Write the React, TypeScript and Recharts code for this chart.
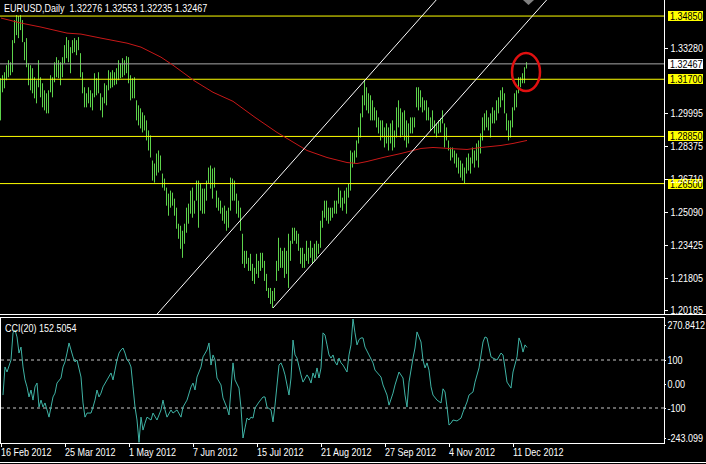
import React from 'react';
import { ComposedChart, Bar, Line, XAxis, YAxis, ReferenceLine, ReferenceDot } from 'recharts';

const FONT = "'Liberation Sans', Arial, sans-serif";
const SX = 0.82;
const BAR_COLOR = '#5dd34b';
const YELLOW = '#ffff00';

// Daily bar highs / lows (EURUSD), 32 bars per chunk
const highs1 = [1.3175,1.3190,1.3205,1.3240,1.3265,1.3255,1.3365,1.3465,1.3490,1.3485,1.3490,1.3465,1.3355,1.3375,1.3250,1.3240,1.3225,1.3180,1.3165,1.3265,1.3180,1.3150,1.3115,1.3100,1.3115,1.3190,1.3180,1.3255,1.3280,1.3265,1.3255,1.3280];
const lows1 = [1.2965,1.3105,1.3125,1.3165,1.3180,1.3190,1.3205,1.3350,1.3390,1.3375,1.3415,1.3355,1.3265,1.3230,1.3140,1.3115,1.3100,1.3075,1.3050,1.3130,1.3080,1.3030,1.3015,1.3000,1.3000,1.3105,1.3080,1.3155,1.3180,1.3175,1.3140,1.3180];
const highs2 = [1.3340,1.3380,1.3365,1.3330,1.3365,1.3375,1.3365,1.3380,1.3300,1.3205,1.3130,1.3100,1.3130,1.3115,1.3100,1.3200,1.3175,1.3205,1.3100,1.3080,1.3150,1.3140,1.3215,1.3205,1.3215,1.3205,1.3225,1.3265,1.3250,1.3275,1.3265,1.3285];
const lows2 = [1.3250,1.3275,1.3255,1.3200,1.3300,1.3305,1.3290,1.3315,1.3180,1.3100,1.3030,1.3030,1.3050,1.3030,1.3015,1.3080,1.3090,1.3100,1.3015,1.2980,1.3050,1.3040,1.3115,1.3125,1.3130,1.3140,1.3145,1.3165,1.3175,1.3180,1.3190,1.3200];
const highs3 = [1.3280,1.3190,1.3175,1.3180,1.3065,1.3040,1.3025,1.3005,1.2990,1.2965,1.2915,1.2890,1.2765,1.2750,1.2800,1.2815,1.2790,1.2700,1.2675,1.2630,1.2600,1.2615,1.2605,1.2575,1.2530,1.2450,1.2440,1.2415,1.2450,1.2530,1.2550,1.2615];
const lows3 = [1.3150,1.3065,1.3075,1.3075,1.2965,1.2940,1.2925,1.2905,1.2915,1.2865,1.2815,1.2780,1.2665,1.2655,1.2690,1.2705,1.2715,1.2630,1.2615,1.2540,1.2490,1.2530,1.2540,1.2490,1.2425,1.2375,1.2325,1.2280,1.2350,1.2405,1.2450,1.2500];
const highs4 = [1.2630,1.2565,1.2665,1.2665,1.2650,1.2625,1.2625,1.2665,1.2730,1.2740,1.2725,1.2730,1.2615,1.2580,1.2565,1.2530,1.2540,1.2515,1.2530,1.2680,1.2675,1.2665,1.2600,1.2565,1.2530,1.2400,1.2315,1.2315,1.2280,1.2300,1.2250,1.2230];
const lows4 = [1.2480,1.2500,1.2565,1.2430,1.2515,1.2500,1.2500,1.2565,1.2650,1.2625,1.2575,1.2630,1.2530,1.2515,1.2500,1.2465,1.2450,1.2415,1.2430,1.2515,1.2565,1.2565,1.2500,1.2480,1.2415,1.2250,1.2230,1.2250,1.2215,1.2215,1.2165,1.2150];
const highs5 = [1.2300,1.2265,1.2305,1.2305,1.2265,1.2200,1.2130,1.2130,1.2115,1.2130,1.2265,1.2380,1.2330,1.2315,1.2330,1.2315,1.2400,1.2365,1.2430,1.2430,1.2415,1.2400,1.2330,1.2330,1.2300,1.2365,1.2330,1.2365,1.2330,1.2350,1.2365,1.2350];
const lows5 = [1.2200,1.2180,1.2215,1.2230,1.2165,1.2115,1.2080,1.2050,1.2030,1.2065,1.2165,1.2215,1.2230,1.2230,1.2180,1.2200,1.2130,1.2265,1.2350,1.2365,1.2350,1.2315,1.2250,1.2230,1.2230,1.2265,1.2250,1.2280,1.2250,1.2265,1.2280,1.2300];
const highs6 = [1.2465,1.2515,1.2565,1.2565,1.2530,1.2530,1.2530,1.2565,1.2565,1.2630,1.2615,1.2580,1.2615,1.2630,1.2650,1.2815,1.2805,1.2815,1.2865,1.2930,1.3000,1.3090,1.3165,1.3130,1.3100,1.3090,1.3065,1.3030,1.3015,1.2980,1.2965,1.2965];
const lows6 = [1.2330,1.2430,1.2480,1.2465,1.2450,1.2465,1.2480,1.2500,1.2500,1.2550,1.2530,1.2515,1.2550,1.2500,1.2580,1.2615,1.2730,1.2750,1.2780,1.2850,1.2880,1.2980,1.3040,1.3015,1.3000,1.2965,1.2965,1.2965,1.2930,1.2900,1.2865,1.2880];
const highs7 = [1.2930,1.2950,1.2930,1.2950,1.2965,1.2915,1.3030,1.3065,1.3025,1.3005,1.3015,1.2965,1.2950,1.2980,1.2980,1.2980,1.3130,1.3130,1.3115,1.3080,1.3065,1.3065,1.3030,1.2980,1.3015,1.2965,1.2950,1.2965,1.2975,1.3015,1.2950,1.2930];
const lows7 = [1.2830,1.2850,1.2815,1.2850,1.2815,1.2830,1.2880,1.2930,1.2880,1.2890,1.2865,1.2830,1.2850,1.2900,1.2900,1.2930,1.3030,1.3015,1.3030,1.3005,1.3015,1.2965,1.2965,1.2915,1.2930,1.2900,1.2880,1.2900,1.2905,1.2950,1.2830,1.2865];
const highs8 = [1.2865,1.2830,1.2830,1.2815,1.2800,1.2780,1.2765,1.2750,1.2730,1.2780,1.2800,1.2780,1.2830,1.2815,1.2850,1.2865,1.2900,1.2980,1.3000,1.3015,1.2980,1.3000,1.3030,1.3015,1.3065,1.3080,1.3115,1.3130,1.3100,1.3000,1.2965,1.2965,1.3030,1.3100,1.3115,1.3180,1.3180,1.3200,1.3230,1.32553];
const lows8 = [1.2815,1.2765,1.2780,1.2750,1.2730,1.2700,1.2680,1.2665,1.2650,1.2700,1.2715,1.2700,1.2750,1.2730,1.2765,1.2730,1.2800,1.2865,1.2915,1.2930,1.2915,1.2880,1.2950,1.2950,1.2965,1.3000,1.3030,1.3065,1.3000,1.2915,1.2865,1.2880,1.2930,1.3015,1.3030,1.3100,1.3130,1.3150,1.3150,1.32235];

// Moving average: [bar index, value]
const maPoints = [[0,1.3475],[10,1.3450],[20,1.3430],[33,1.3400],[40,1.3395],[50,1.3375],[63,1.3350],[70,1.3330],[80,1.3280],[86,1.3240],[97,1.3160],[106,1.3105],[116,1.3060],[127,1.2980],[138,1.2905],[143,1.2875],[153,1.2815],[163,1.2780],[173,1.2755],[178,1.2750],[183,1.2760],[191,1.2780],[200,1.2800],[210,1.2825],[216,1.2830],[224,1.2825],[233,1.2820],[240,1.2830],[250,1.2840],[256,1.2850],[263,1.2865]];

// CCI(20): [bar index, value]
const cciPoints = [[1,-46],[2,71],[3,50],[5,100],[6,213],[7,225],[8,196],[9,129],[10,154],[11,71],[12,17],[13,-12],[14,-54],[15,-25],[16,-67],[17,-12],[18,4],[19,-96],[20,-67],[21,-96],[22,-79],[23,-108],[24,-138],[25,-96],[26,-54],[27,-38],[28,4],[30,25],[31,71],[32,92],[33,129],[34,171],[35,142],[36,113],[37,92],[38,100],[40,29],[41,-79],[42,-138],[43,-121],[45,-121],[46,-96],[47,-67],[48,-25],[49,-54],[50,-38],[51,-12],[53,17],[55,46],[56,17],[57,58],[58,100],[59,129],[60,142],[61,150],[62,129],[63,100],[64,92],[65,71],[66,-12],[67,-96],[68,-150],[69,-243.099],[70,-138],[71,-192],[72,-163],[73,-138],[75,-150],[76,-121],[78,-150],[80,-108],[81,-67],[82,-108],[83,-138],[85,-108],[86,-121],[88,-108],[90,-138],[91,-96],[93,-67],[95,-12],[96,4],[97,-25],[98,29],[100,71],[101,113],[103,142],[104,171],[105,79],[106,121],[107,100],[108,25],[110,-4],[111,-58],[113,-100],[114,-129],[116,88],[117,17],[119,-17],[120,-100],[121,-225],[122,-183],[123,-142],[124,-150],[125,-138],[126,-142],[127,-100],[129,-75],[131,-54],[132,-54],[133,-96],[135,-108],[136,-158],[137,-88],[139,79],[140,88],[141,67],[142,38],[144,-46],[145,25],[146,183],[147,121],[148,108],[150,38],[151,8],[153,38],[154,25],[155,4],[156,46],[157,25],[158,67],[159,25],[160,67],[161,213],[162,204],[163,163],[164,121],[165,108],[166,121],[167,92],[168,79],[169,108],[170,88],[171,79],[173,50],[174,121],[175,163],[176,270.8412],[177,213],[178,163],[179,185],[180,192],[181,192],[182,154],[184,121],[186,88],[187,58],[190,29],[191,-4],[193,-46],[194,-88],[196,-38],[197,-4],[199,50],[201,25],[202,-46],[203,-96],[204,8],[206,108],[207,150],[208,217],[210,175],[211,100],[212,67],[213,88],[214,58],[215,-12],[216,-46],[218,-67],[220,-79],[221,-20],[222,-33],[223,-96],[224,-171],[225,-163],[226,-150],[228,-154],[230,-142],[231,-117],[233,-75],[234,-46],[236,-33],[237,8],[239,67],[241,175],[242,196],[243,192],[245,113],[246,108],[248,100],[250,129],[251,121],[252,67],[253,8],[255,-17],[256,50],[258,113],[259,192],[260,171],[261,133],[262,163],[263,152.5054]];

const levelValues = [1.3485, 1.317, 1.2885, 1.265];
const levelLabels = ['1.34850', '1.31700', '1.28850', '1.26500'];
const bidValue = 1.32467;
const bidLabel = '1.32467';
const priceTicks = [1.3328, 1.29995, 1.28375, 1.2671, 1.2509, 1.23425, 1.21805, 1.20185];
const cciTicks = [270.8412, 100, 0, -100, -243.099];
const cciTickLabels = ['270.8412', '100', '0.00', '-100', '-243.099'];
const cciLevels = [100, -100];
const dateTicks = [0, 32, 64, 96, 128, 160, 192, 224, 256];
const dateLabels = ['16 Feb 2012', '25 Mar 2012', '1 May 2012', '7 Jun 2012', '15 Jul 2012', '21 Aug 2012', '27 Sep 2012', '4 Nov 2012', '11 Dec 2012'];
const channelUpper = [{ x: 78.1, y: 1.2 }, { x: 217.6, y: 1.3565 }];
const channelLower = [{ x: 136, y: 1.203 }, { x: 272.8, y: 1.3565 }];
const highlight = { x: 262.5, y: 1.3206 };
const titleText = 'EURUSD,Daily  1.32276 1.32553 1.32235 1.32467';
const cciTitle = 'CCI(20) 152.5054';

const priceDomain = [1.2, 1.3565];
const cciDomain = [-245.8, 279.2];
const xDomain = [-0.5, 331.5];

const highs = [...highs1, ...highs2, ...highs3, ...highs4, ...highs5, ...highs6, ...highs7, ...highs8];
const lows = [...lows1, ...lows2, ...lows3, ...lows4, ...lows5, ...lows6, ...lows7, ...lows8];
const maMap = new Map(maPoints.map((p) => [p[0], p[1]]));
const priceRows = highs.slice(0, lows.length).map((h, i) => ({
  i,
  range: [lows[i], h],
  ma: maMap.has(i) ? maMap.get(i) : null,
}));
const cciRows = cciPoints.map((p) => ({ i: p[0], cci: p[1] }));

const T = ({ x, y, fill = '#ffffff', children }: any) => (
  <text
    transform={`translate(${x},${y}) scale(${SX},1)`}
    x={0}
    y={0}
    fill={fill}
    fontSize={11}
    fontFamily={FONT}
    style={{ whiteSpace: 'pre' }}
  >
    {children}
  </text>
);

const PriceBarShape = (props: any) => {
  const { x, y, width, height } = props;
  if (x == null || y == null || isNaN(x) || isNaN(y)) return null;
  const cx = Math.floor(x + (width || 0) / 2);
  const top = Math.min(y, y + height);
  const h = Math.max(1, Math.abs(height));
  return <rect x={cx} y={top} width={1} height={h} fill={BAR_COLOR} />;
};

const PriceTick = (props: any) => {
  const { y, payload } = props;
  const yy = Math.round(y) + 0.5;
  return (
    <g>
      <line x1={665} x2={668} y1={yy} y2={yy} stroke="#ffffff" />
      <T x={670.5} y={y + 4}>{Number(payload.value).toFixed(5)}</T>
    </g>
  );
};

const CciTick = (props: any) => {
  const { y, payload } = props;
  const idx = cciTicks.indexOf(payload.value);
  const off = idx === 0 ? 6 : idx === cciTicks.length - 1 ? -4.5 : 0;
  const yy = Math.round(y + off) + 0.5;
  return (
    <g>
      <line x1={664} x2={666} y1={yy} y2={yy} stroke="#ffffff" />
      <T x={667.5} y={y + off + 4}>{cciTickLabels[idx]}</T>
    </g>
  );
};

const DateTick = (props: any) => {
  const { x, payload } = props;
  const idx = dateTicks.indexOf(payload.value);
  const xx = Math.round(x) + 0.5;
  return (
    <g>
      <line x1={xx} x2={xx} y1={126} y2={130} stroke="#ffffff" />
      <T x={x} y={139}>{dateLabels[idx]}</T>
    </g>
  );
};

const LevelTag = (props: any) => {
  const { viewBox, text, bg } = props;
  if (!viewBox) return null;
  const right = viewBox.x + viewBox.width;
  const y = viewBox.y;
  return (
    <g>
      <rect x={right + 4} y={Math.round(y) - 5} width={35} height={10} fill={bg} />
      <T x={right + 6} y={y + 4} fill="#000000">{text}</T>
    </g>
  );
};

const EllipseShape = (props: any) => {
  const { cx, cy } = props;
  if (cx == null || cy == null) return null;
  return <ellipse cx={cx} cy={cy} rx={14} ry={19} fill="none" stroke="#e01010" strokeWidth={2.5} />;
};

export default function App() {
  return (
    <div style={{ position: 'absolute', left: 0, top: 0, width: 706, height: 464, background: '#000', overflow: 'hidden' }}>
      <div style={{ position: 'absolute', left: 0, top: 0 }}>
        <ComposedChart width={706} height={317} data={priceRows} margin={{ top: 0, right: 0, bottom: 3, left: 0 }}>
          <XAxis type="number" dataKey="i" domain={xDomain} hide allowDataOverflow />
          <YAxis
            orientation="right"
            width={42}
            type="number"
            domain={priceDomain}
            allowDataOverflow
            ticks={priceTicks}
            interval={0}
            axisLine={false}
            tickLine={false}
            tick={<PriceTick />}
          />
          {levelValues.map((v, k) => (
            <ReferenceLine
              key={'lv' + k}
              y={v}
              stroke={YELLOW}
              strokeWidth={1}
              ifOverflow="visible"
              label={<LevelTag text={levelLabels[k]} bg={YELLOW} />}
            />
          ))}
          <ReferenceLine y={bidValue} stroke="#a8a8a8" ifOverflow="visible" label={<LevelTag text={bidLabel} bg="#ffffff" />} />
          <Bar dataKey="range" barSize={1} isAnimationActive={false} activeBar={false} shape={<PriceBarShape />} />
          <Line type="linear" dataKey="ma" stroke="#c81818" strokeWidth={1} dot={false} activeDot={false} connectNulls isAnimationActive={false} />
          <ReferenceLine segment={channelUpper} stroke="#ffffff" strokeWidth={1} ifOverflow="hidden" />
          <ReferenceLine segment={channelLower} stroke="#ffffff" strokeWidth={1} ifOverflow="hidden" />
          <ReferenceDot x={highlight.x} y={highlight.y} r={19} ifOverflow="visible" shape={<EllipseShape />} />
        </ComposedChart>
      </div>
      <div style={{ position: 'absolute', left: 0, top: 317 }}>
        <ComposedChart width={706} height={147} data={cciRows} margin={{ top: 0, right: 0, bottom: 0, left: 0 }}>
          <XAxis
            type="number"
            dataKey="i"
            domain={xDomain}
            allowDataOverflow
            ticks={dateTicks}
            interval={0}
            height={21}
            axisLine={false}
            tickLine={false}
            tick={<DateTick />}
          />
          <YAxis
            orientation="right"
            width={42}
            type="number"
            domain={cciDomain}
            allowDataOverflow
            ticks={cciTicks}
            interval={0}
            axisLine={false}
            tickLine={false}
            tick={<CciTick />}
          />
          {cciLevels.map((v) => (
            <ReferenceLine key={'c' + v} y={v} stroke="#c8c8c8" strokeDasharray="3 3" />
          ))}
          <Line type="linear" dataKey="cci" stroke="#3fb3a5" strokeWidth={1} dot={false} activeDot={false} connectNulls isAnimationActive={false} />
        </ComposedChart>
      </div>
      <svg width={706} height={464} style={{ position: 'absolute', left: 0, top: 0, pointerEvents: 'none' }}>
        <T x={4} y={12}>{titleText}</T>
        <T x={5} y={332}>{cciTitle}</T>
        <line x1={664.5} x2={664.5} y1={0} y2={314} stroke="#ffffff" />
        <line x1={0} x2={706} y1={314.5} y2={314.5} stroke="#ffffff" />
        <rect x={0.5} y={317.5} width={664} height={126} fill="none" stroke="#ffffff" />
        <line x1={0} x2={706} y1={462.5} y2={462.5} stroke="#ffffff" />
        <polygon points="523,0 534,0 528.5,5" fill="#808080" />
      </svg>
    </div>
  );
}
